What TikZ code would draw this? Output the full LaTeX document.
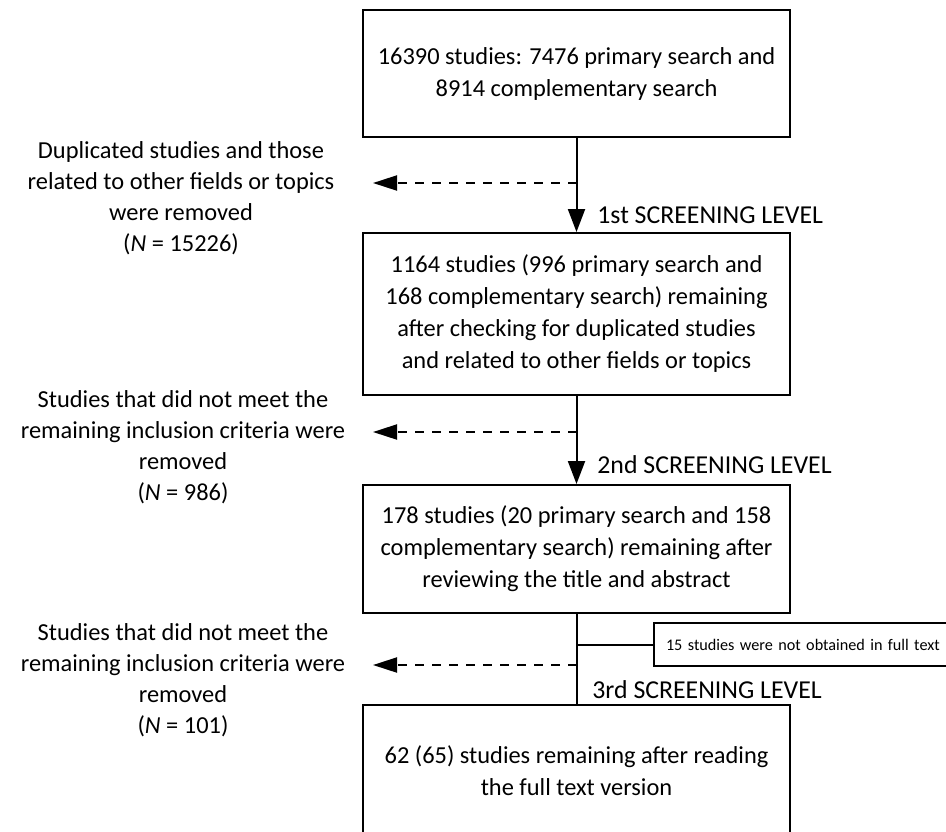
\documentclass[tikz,border=0pt]{standalone}
\usepackage{fontspec}
\setmainfont{Carlito}
\usetikzlibrary{arrows.meta,positioning}

\begin{document}
\begin{tikzpicture}[x=0.5pt,y=-0.5pt,
    stage/.style={draw=black, line width=1pt, minimum width=213.5pt, align=center, inner sep=0pt, font=\fontsize{12.2}{16}\selectfont},
    removed/.style={align=center, inner sep=0pt, font=\fontsize{12.2}{15.5}\selectfont},
    level/.style={anchor=west, inner sep=0pt, font=\fontsize{12.9}{15}\selectfont},
    note/.style={draw=black, line width=1pt, anchor=west, text width=165pt, inner xsep=6pt, inner ysep=0pt, minimum height=21.5pt, align=left, font=\fontsize{8.1}{10}\selectfont}
    ]
    \clip (0,0) rectangle (946,831);
    
    % the four stages
    \node[stage, minimum height=63.5pt] (S0) at (576.5,73.5) {16390 studies: 7476 primary search and\\8914 complementary search};
    \node[stage, minimum height=81pt] (S1) at (576.5,314) {1164 studies (996 primary search and\\168 complementary search) remaining\\after checking for duplicated studies\\and related to other fields or topics};
    \node[stage, minimum height=64pt] (S2) at (576.5,549) {178 studies (20 primary search and 158\\complementary search) remaining after\\reviewing the title and abstract};
    \node[stage, minimum height=66pt] (S3) at (576.5,771) {62 (65) studies remaining after reading\\the full text version};
    
    % removed studies, one per level
    \node[removed] (R1) at (181,198) {Duplicated studies and those\\related to other fields or topics\\were removed\\(\textit{N} = 15226)};
    \node[removed] (R2) at (183,447) {Studies that did not meet the\\remaining inclusion criteria were\\removed\\(\textit{N} = 986)};
    \node[removed] (R3) at (183,680) {Studies that did not meet the\\remaining inclusion criteria were\\removed\\(\textit{N} = 101)};
    
    % screening levels
    \node[level] (L1) at (597,215) {1st SCREENING LEVEL};
    \node[level] (L2) at (597,465) {2nd SCREENING LEVEL};
    \node[level] (L3) at (592,690) {3rd SCREENING LEVEL};
    
    % not obtained in full text
    \node[note] (X) at (653,644.5) {15 studies were not obtained in full text};
    
    \coordinate (j1) at (576.5,183);
    \coordinate (j2) at (576.5,432);
    \coordinate (j3) at (576.5,665);
    \coordinate (a1) at (373,183);
    \coordinate (a2) at (373,432);
    \coordinate (a3) at (373,665);
    \coordinate (c3) at (S2.south |- X.west);
    
    \path[every edge/.style={draw, line width=1pt}, -{Triangle[length=11.5pt,width=8.5pt]}]
    (S0) edge (S1)
    (S1) edge (S2)
    ;
    \path[every edge/.style={draw, line width=1pt}]
    (S2) edge (S3)
    (c3) edge (X.west)
    ;
    
    \path[every edge/.style={draw, line width=1pt, dash pattern=on 4.5pt off 4pt}, -{Triangle[length=12pt,width=7.5pt]}]
    (j1) edge (a1)
    (j2) edge (a2)
    (j3) edge (a3)
    ;
    
\end{tikzpicture}
\end{document}
